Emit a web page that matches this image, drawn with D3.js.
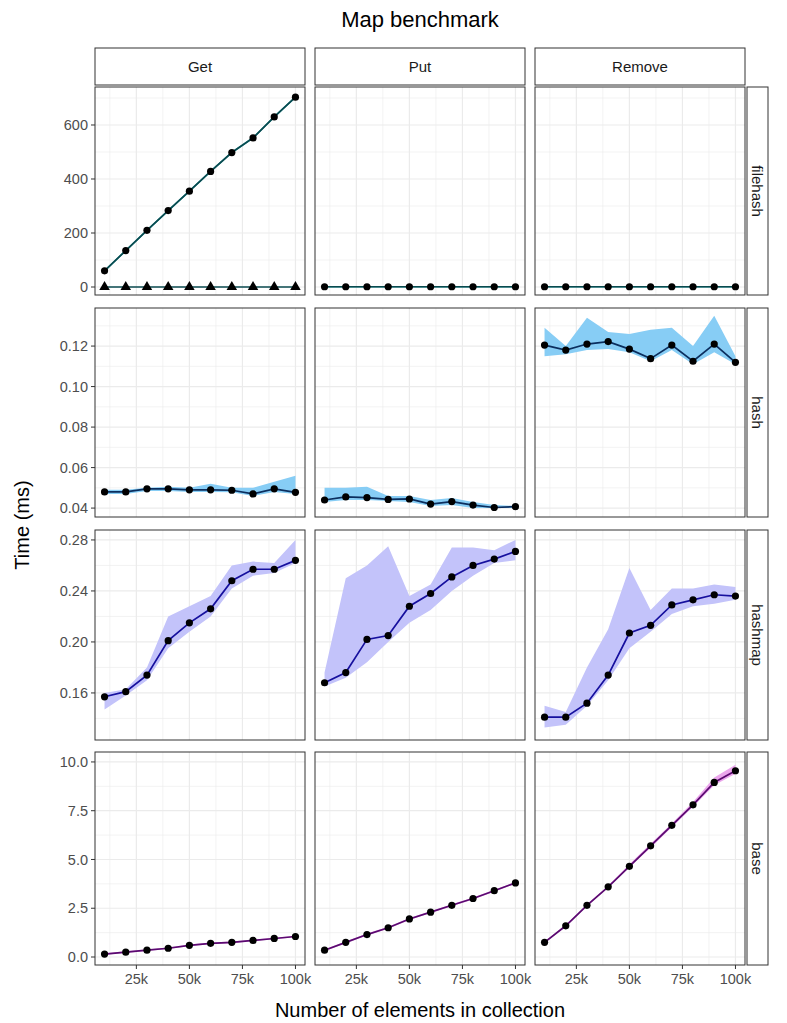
<!DOCTYPE html><html><head><meta charset="utf-8">
<script src="https://cdn.jsdelivr.net/npm/d3@7"></script>
<style>body{margin:0;background:#fff}text{font-family:"Liberation Sans",Arial,sans-serif}</style></head><body>
<svg id="c" width="787" height="1023"></svg>
<script>
const xs=[10000,20000,30000,40000,50000,60000,70000,80000,90000,100000];
const ops=["Get","Put","Remove"];
const impls=["filehash","hash","hashmap","base"];
const xTicks=[25000,50000,75000,100000];
const xTickLabels=["25k","50k","75k","100k"];
const yTicks=[[0,200,400,600],[0.04,0.06,0.08,0.10,0.12],[0.16,0.20,0.24,0.28],[0,2.5,5,7.5,10]];
const yTickFmt=[d3.format("d"),d3.format(".2f"),d3.format(".2f"),d3.format(".1f")];
const yDomains=[[-29.6,740.7],[0.0356,0.1388],[0.1231,0.2878],[-0.41,10.51]];
const fhGet=[60,135,210,283,355,428,498,552,630,703];
const fhGetAlt=[0,0,0,0,0,0,0,0,0,0];
const fhPut=[1,1,1,1,1,1,1,1,1,1];
const fhRem=[1,1,1,1,1,1,1,1,1,1];
const hGet=[0.048,0.048,0.0495,0.0495,0.049,0.049,0.0488,0.047,0.0495,0.0478];
const hGetLo=[0.047,0.047,0.0485,0.0485,0.048,0.048,0.0478,0.046,0.048,0.047];
const hGetHi=[0.049,0.049,0.050,0.0505,0.050,0.052,0.050,0.050,0.053,0.056];
const hPut=[0.044,0.0455,0.0452,0.0443,0.0445,0.042,0.0432,0.0415,0.0403,0.0407];
const hPutLo=[0.043,0.044,0.044,0.0435,0.043,0.041,0.0415,0.040,0.040,0.040];
const hPutHi=[0.050,0.050,0.0505,0.046,0.046,0.044,0.045,0.043,0.0415,0.041];
const hRem=[0.1205,0.118,0.121,0.1222,0.1185,0.1138,0.1205,0.1125,0.121,0.112];
const hRemLo=[0.115,0.116,0.118,0.1185,0.117,0.1125,0.118,0.111,0.117,0.111];
const hRemHi=[0.129,0.120,0.134,0.127,0.126,0.128,0.129,0.120,0.135,0.115];
const hmGet=[0.157,0.161,0.174,0.201,0.215,0.226,0.248,0.257,0.257,0.264];
const hmGetLo=[0.147,0.158,0.170,0.195,0.208,0.220,0.242,0.252,0.254,0.262];
const hmGetHi=[0.160,0.163,0.180,0.220,0.228,0.236,0.260,0.263,0.262,0.280];
const hmPut=[0.168,0.176,0.202,0.205,0.228,0.238,0.251,0.260,0.265,0.271];
const hmPutLo=[0.165,0.172,0.184,0.200,0.215,0.225,0.240,0.252,0.262,0.264];
const hmPutHi=[0.176,0.250,0.260,0.275,0.236,0.245,0.274,0.274,0.272,0.280];
const hmRem=[0.141,0.141,0.152,0.174,0.207,0.213,0.229,0.233,0.237,0.236];
const hmRemLo=[0.133,0.135,0.150,0.170,0.195,0.208,0.222,0.228,0.230,0.233];
const hmRemHi=[0.150,0.145,0.180,0.210,0.258,0.225,0.242,0.242,0.245,0.243];
const bGet=[0.15,0.25,0.35,0.45,0.6,0.7,0.75,0.85,0.95,1.05];
const bPut=[0.35,0.75,1.15,1.5,1.95,2.3,2.65,3.0,3.4,3.8];
const bRem=[0.75,1.6,2.65,3.6,4.65,5.7,6.75,7.8,8.95,9.55];
const bRemLo=[0.7,1.55,2.6,3.55,4.6,5.6,6.65,7.7,8.8,9.4];
const bRemHi=[0.8,1.65,2.7,3.65,4.75,5.8,6.85,7.95,9.2,9.85];
const lineCol=["#0a4a4f","#0b2e5e","#16109e","#5a0a70"];
const fillCol=["#27a3a8","#87cdf5","#c3c3fa","#eba6ec"];
const data=[
 [[fhGet,fhGet.map(v=>v-4),fhGet.map(v=>v+4),fhGetAlt],[fhPut,fhPut.map(v=>v-3),fhPut.map(v=>v+3)],[fhRem,fhRem.map(v=>v-3),fhRem.map(v=>v+3)]],
 [[hGet,hGetLo,hGetHi],[hPut,hPutLo,hPutHi],[hRem,hRemLo,hRemHi]],
 [[hmGet,hmGetLo,hmGetHi],[hmPut,hmPutLo,hmPutHi],[hmRem,hmRemLo,hmRemHi]],
 [[bGet,bGet.map(v=>v-0.04),bGet.map(v=>v+0.04)],[bPut,bPut.map(v=>v-0.05),bPut.map(v=>v+0.05)],[bRem,bRemLo,bRemHi]]
];
const svg=d3.select("#c");
const colX=[95,315,535],pw=210;
const rowY=[87,308,530,752],ph=[208,209,210,213];
const x0=d3.scaleLinear().domain([5500,104500]);
svg.append("text").attr("x",420).attr("y",27).attr("text-anchor","middle").attr("font-size",22).text("Map benchmark");
ops.forEach((o,c)=>{
 svg.append("rect").attr("x",colX[c]).attr("y",48).attr("width",pw).attr("height",37).attr("fill","#fff").attr("stroke","#333");
 svg.append("text").attr("x",colX[c]+pw/2).attr("y",72).attr("text-anchor","middle").attr("font-size",15).attr("fill","#1a1a1a").text(o);
});
impls.forEach((im,r)=>{
 const y0=rowY[r],h=ph[r];
 const ys=d3.scaleLinear().domain(yDomains[r]).range([y0+h,y0]);
 svg.append("rect").attr("x",747).attr("y",y0).attr("width",21).attr("height",h).attr("fill","#fff").attr("stroke","#333");
 svg.append("text").attr("transform",`translate(757,${y0+h/2}) rotate(90)`).attr("text-anchor","middle").attr("dy","0.35em").attr("font-size",15).attr("fill","#1a1a1a").text(im);
 const t=yTicks[r],step=t[1]-t[0];
 const minors=[t[0]-step/2].concat(t.map(v=>v+step/2)).filter(v=>v>yDomains[r][0]&&v<yDomains[r][1]);
 ops.forEach((o,c)=>{
  const xs_=x0.copy().range([colX[c],colX[c]+pw]);
  const g=svg.append("g");
  g.append("rect").attr("x",colX[c]).attr("y",y0).attr("width",pw).attr("height",h).attr("fill","#fff");
  const xMin=[12500,37500,62500,87500];
  xMin.forEach(v=>g.append("line").attr("x1",xs_(v)).attr("x2",xs_(v)).attr("y1",y0).attr("y2",y0+h).attr("stroke","#ebebeb").attr("stroke-width",0.6));
  minors.forEach(v=>g.append("line").attr("x1",colX[c]).attr("x2",colX[c]+pw).attr("y1",ys(v)).attr("y2",ys(v)).attr("stroke","#ebebeb").attr("stroke-width",0.6));
  xTicks.forEach(v=>g.append("line").attr("x1",xs_(v)).attr("x2",xs_(v)).attr("y1",y0).attr("y2",y0+h).attr("stroke","#ebebeb").attr("stroke-width",1.2));
  t.forEach(v=>g.append("line").attr("x1",colX[c]).attr("x2",colX[c]+pw).attr("y1",ys(v)).attr("y2",ys(v)).attr("stroke","#ebebeb").attr("stroke-width",1.2));
  const [m,lo,hi,alt]=data[r][c];
  const area=d3.area().x((d,i)=>xs_(xs[i])).y0((d,i)=>ys(lo[i])).y1((d,i)=>ys(hi[i]));
  g.append("path").attr("d",area(m)).attr("fill",fillCol[r]);
  const line=d3.line().x((d,i)=>xs_(xs[i])).y(d=>ys(d));
  g.append("path").attr("d",line(m)).attr("fill","none").attr("stroke",lineCol[r]).attr("stroke-width",1.7);
  m.forEach((v,i)=>g.append("circle").attr("cx",xs_(xs[i])).attr("cy",ys(v)).attr("r",3.6).attr("fill","#000"));
  if(alt){
   g.append("path").attr("d",line(alt)).attr("fill","none").attr("stroke",lineCol[r]).attr("stroke-width",1.7);
   const tri=d3.symbol().type(d3.symbolTriangle).size(48);
   alt.forEach((v,i)=>g.append("path").attr("d",tri()).attr("transform",`translate(${xs_(xs[i])},${ys(v)})`).attr("fill","#000"));
  }
  g.append("rect").attr("x",colX[c]).attr("y",y0).attr("width",pw).attr("height",h).attr("fill","none").attr("stroke","#333");
  if(c===0){
   t.forEach(v=>{
    g.append("line").attr("x1",colX[c]-4).attr("x2",colX[c]).attr("y1",ys(v)).attr("y2",ys(v)).attr("stroke","#333");
    g.append("text").attr("x",colX[c]-7).attr("y",ys(v)).attr("dy","0.35em").attr("text-anchor","end").attr("font-size",14.5).attr("fill","#4d4d4d").text(yTickFmt[r](v));
   });
  }
  if(r===3){
   xTicks.forEach((v,i)=>{
    g.append("line").attr("x1",xs_(v)).attr("x2",xs_(v)).attr("y1",y0+h).attr("y2",y0+h+4).attr("stroke","#333");
    g.append("text").attr("x",xs_(v)).attr("y",y0+h+19).attr("text-anchor","middle").attr("font-size",14.5).attr("fill","#4d4d4d").text(xTickLabels[i]);
   });
  }
 });
});
svg.append("text").attr("transform","translate(29,525) rotate(-90)").attr("text-anchor","middle").attr("font-size",20).text("Time (ms)");
svg.append("text").attr("x",420).attr("y",1017).attr("text-anchor","middle").attr("font-size",20).text("Number of elements in collection");
</script></body></html>
